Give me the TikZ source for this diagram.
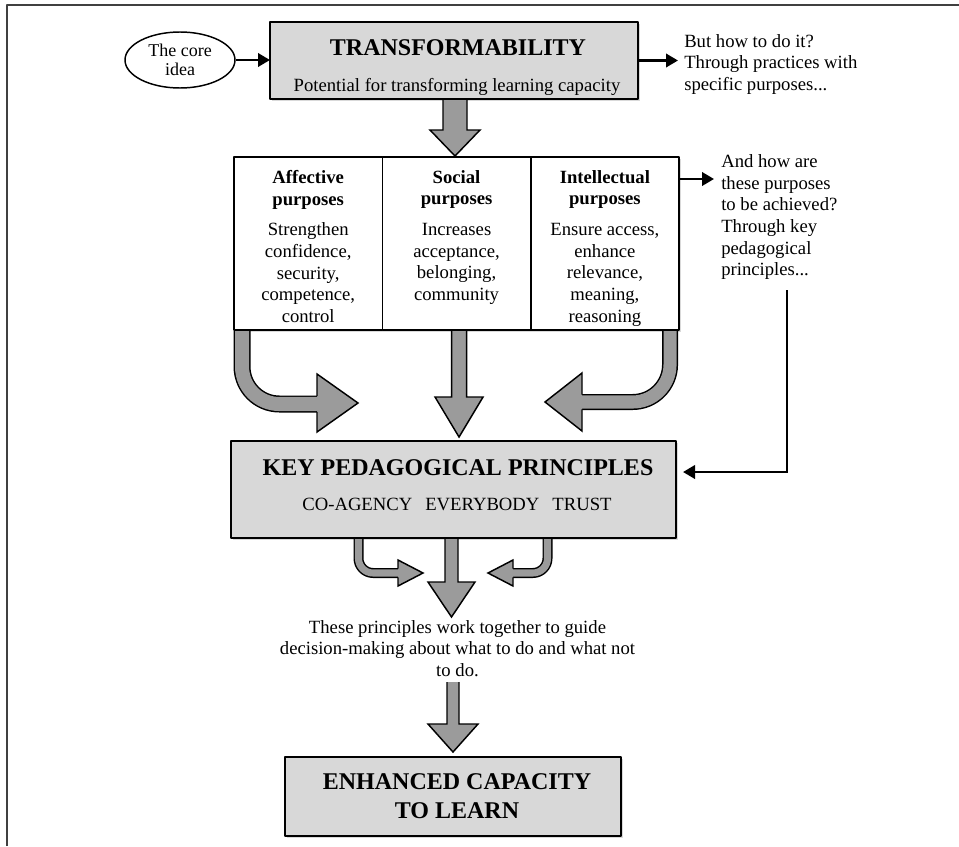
\documentclass[tikz,border=0pt]{standalone}
\usepackage{fontspec}
\setmainfont{Liberation Serif}
\usetikzlibrary{arrows.meta,calc,positioning,shadows,shapes.geometric}
\definecolor{boxgray}{RGB}{216,216,216}
\definecolor{arrowgray}{RGB}{155,155,155}
\tikzset{
    txt/.style={font=\fontsize{14}{16.2}\selectfont, inner sep=0pt},
    bighead/.style={font=\fontsize{18}{21.75}\selectfont\bfseries, inner sep=0pt},
    greybox/.style={draw, line width=1.4pt, fill=boxgray, inner sep=0pt, outer sep=0pt,
        drop shadow={opacity=0.3, shadow xshift=1.5pt, shadow yshift=-1.5pt}},
    cell/.style={draw, line width=1.2pt, fill=white, inner sep=0pt, outer sep=0pt,
        minimum width=111.25pt, minimum height=129.75pt,
        drop shadow={opacity=0.3, shadow xshift=1.5pt, shadow yshift=-1.5pt}},
    link/.style={line width=2pt, -{Triangle[length=9pt,width=10pt]}},
    fat/.style={fill=arrowgray, draw=black, line width=1.1pt, line join=miter},
    shaft/.style={draw=black, line width=1.1pt, double=arrowgray, double distance=#1},
    headfill/.style={fill=arrowgray},
    rim/.style={draw=black, line width=1.1pt, line join=miter},
}

\begin{document}
\begin{tikzpicture}[x=0.75pt, y=-0.75pt, line join=round]
    \useasboundingbox (0,0) rectangle (959,846);
    \draw[line width=1.5pt, black!75] (7,846) -- (7,5) -- (959,5);

    \node[draw, ellipse, line width=1.1pt, minimum width=82.5pt, minimum height=42pt,
        inner sep=0pt, align=center, font=\fontsize{13.5}{14.5}\selectfont]
        (core) at (180,60) {The core\\idea};
    \node[greybox, minimum width=276pt, minimum height=57.75pt] (tf) at (454,60.5) {};
    \node[bighead, anchor=base] (tftitle) at (458,55) {TRANSFORMABILITY};
    \node[txt, anchor=base] (tfsub) at (457,91) {Potential for transforming learning capacity};
    \node[txt, align=left, anchor=north west] (how) at (684,34)
        {But how to do it?\\Through practices with\\specific purposes...};
    \draw[link] (core.east) -- (core.east -| tf.west);
    \draw[link] (tf.east) -- ++(40,0);

    \node[cell] (aff) at (308.2,243.5) {};
    \node[cell, right=0pt of aff] (soc) {};
    \node[cell, right=0pt of soc] (int) {};
    \node[txt, align=center, anchor=north] (afftxt) at ($(aff.north)+(0,13)$)
        {\textbf{Affective}\\\textbf{purposes}\\[7pt]Strengthen\\confidence,\\security,\\competence,\\control};
    \node[txt, align=center, anchor=north] (soctxt) at ($(soc.north)+(0,13)$)
        {\textbf{Social}\\\textbf{purposes}\\[7pt]Increases\\acceptance,\\belonging,\\community};
    \node[txt, align=center, anchor=north] (inttxt) at ($(int.north)+(0,13)$)
        {\textbf{Intellectual}\\\textbf{purposes}\\[7pt]Ensure access,\\enhance\\relevance,\\meaning,\\reasoning};
    \draw[link] ($(int.north east)+(0,22)$) -- ++(35,0);
    \node[txt, align=left, anchor=north west] (ahow) at (721,154.5)
        {And how are\\these purposes\\to be achieved?\\Through key\\pedagogical\\principles...};

    \node[greybox, minimum width=333.75pt, minimum height=72.75pt] (kpp) at (453.5,489.5) {};
    \node[bighead, anchor=base] (kpptitle) at (458,475) {KEY PEDAGOGICAL PRINCIPLES};
    \node[txt, anchor=base] (kppsub) at (457,510) {CO-AGENCY\hspace{0.7em}EVERYBODY\hspace{0.7em}TRUST};
    \coordinate (turn) at (787,290);
    \draw[link, line join=miter] (turn) |- ($(kpp.east)+(7,-17.5)$);

    \node[txt, align=center, anchor=north] (note) at (457.5,620)
        {These principles work together to guide\\decision-making about what to do and what not\\to do.};
    \node[greybox, minimum width=252pt, minimum height=59.25pt] (en) at (453,796.5) {};
    \node[bighead, align=center, anchor=north] (entitle) at (457,773) {ENHANCED CAPACITY\\TO LEARN};

    % fat arrows
    \filldraw[fat] ($(tf.south)+(-11,1)$) -- ++(0,30) -- ++(-13,0) -- ++(25,26)
        -- ++(25,-26) -- ++(-13,0) -- ++(0,-30);
    \filldraw[fat] ($(soc.south)+(-5,1)$) -- ++(0,66) -- ++(-16.5,0) -- ++(24,40)
        -- ++(24,-40) -- ++(-16.5,0) -- ++(0,-66);
    \draw[shaft=10.55pt, rounded corners=28pt] ($(aff.south west)+(8,1)$) -- ++(0,73) -- (319,404);
    \fill[headfill] (317,374) -- (358,403) -- (317,432) -- cycle;
    \draw[rim] (317,396.2) -- (317,374) -- (358,403) -- (317,432) -- (317,411.8);
    \draw[shaft=9.8pt, rounded corners=28pt] ($(int.south east)+(-9,1)$) -- ++(0,71) -- (580,402);
    \fill[headfill] (582,373) -- (545,402) -- (582,431) -- cycle;
    \draw[rim] (582,394.7) -- (582,373) -- (545,402) -- (582,431) -- (582,409.3);

    \filldraw[fat] ($(kpp.south)+(-8.5,1)$) -- ++(0,43) -- ++(-17,0) -- ++(23.5,35)
        -- ++(23.5,-35) -- ++(-17,0) -- ++(0,-43);
    \draw[shaft=5.3pt, rounded corners=11pt] ($(kpp.south west)+(127.5,1)$) -- ++(0,34) -- (400,573);
    \fill[headfill] (398,560) -- (423,573) -- (398,586) -- cycle;
    \draw[rim] (398,568.7) -- (398,560) -- (423,573) -- (398,586) -- (398,577.3);
    \draw[shaft=5.3pt, rounded corners=11pt] ($(kpp.south east)+(-128.5,1)$) -- ++(0,34) -- (511,573);
    \fill[headfill] (513,560) -- (488,573) -- (513,586) -- cycle;
    \draw[rim] (513,568.7) -- (513,560) -- (488,573) -- (513,586) -- (513,577.3);

    \filldraw[fat] ($(en.north)+(-6,-75)$) -- ++(0,42) -- ++(-19,0) -- ++(25,28)
        -- ++(25,-28) -- ++(-19,0) -- ++(0,-42);
\end{tikzpicture}
\end{document}
